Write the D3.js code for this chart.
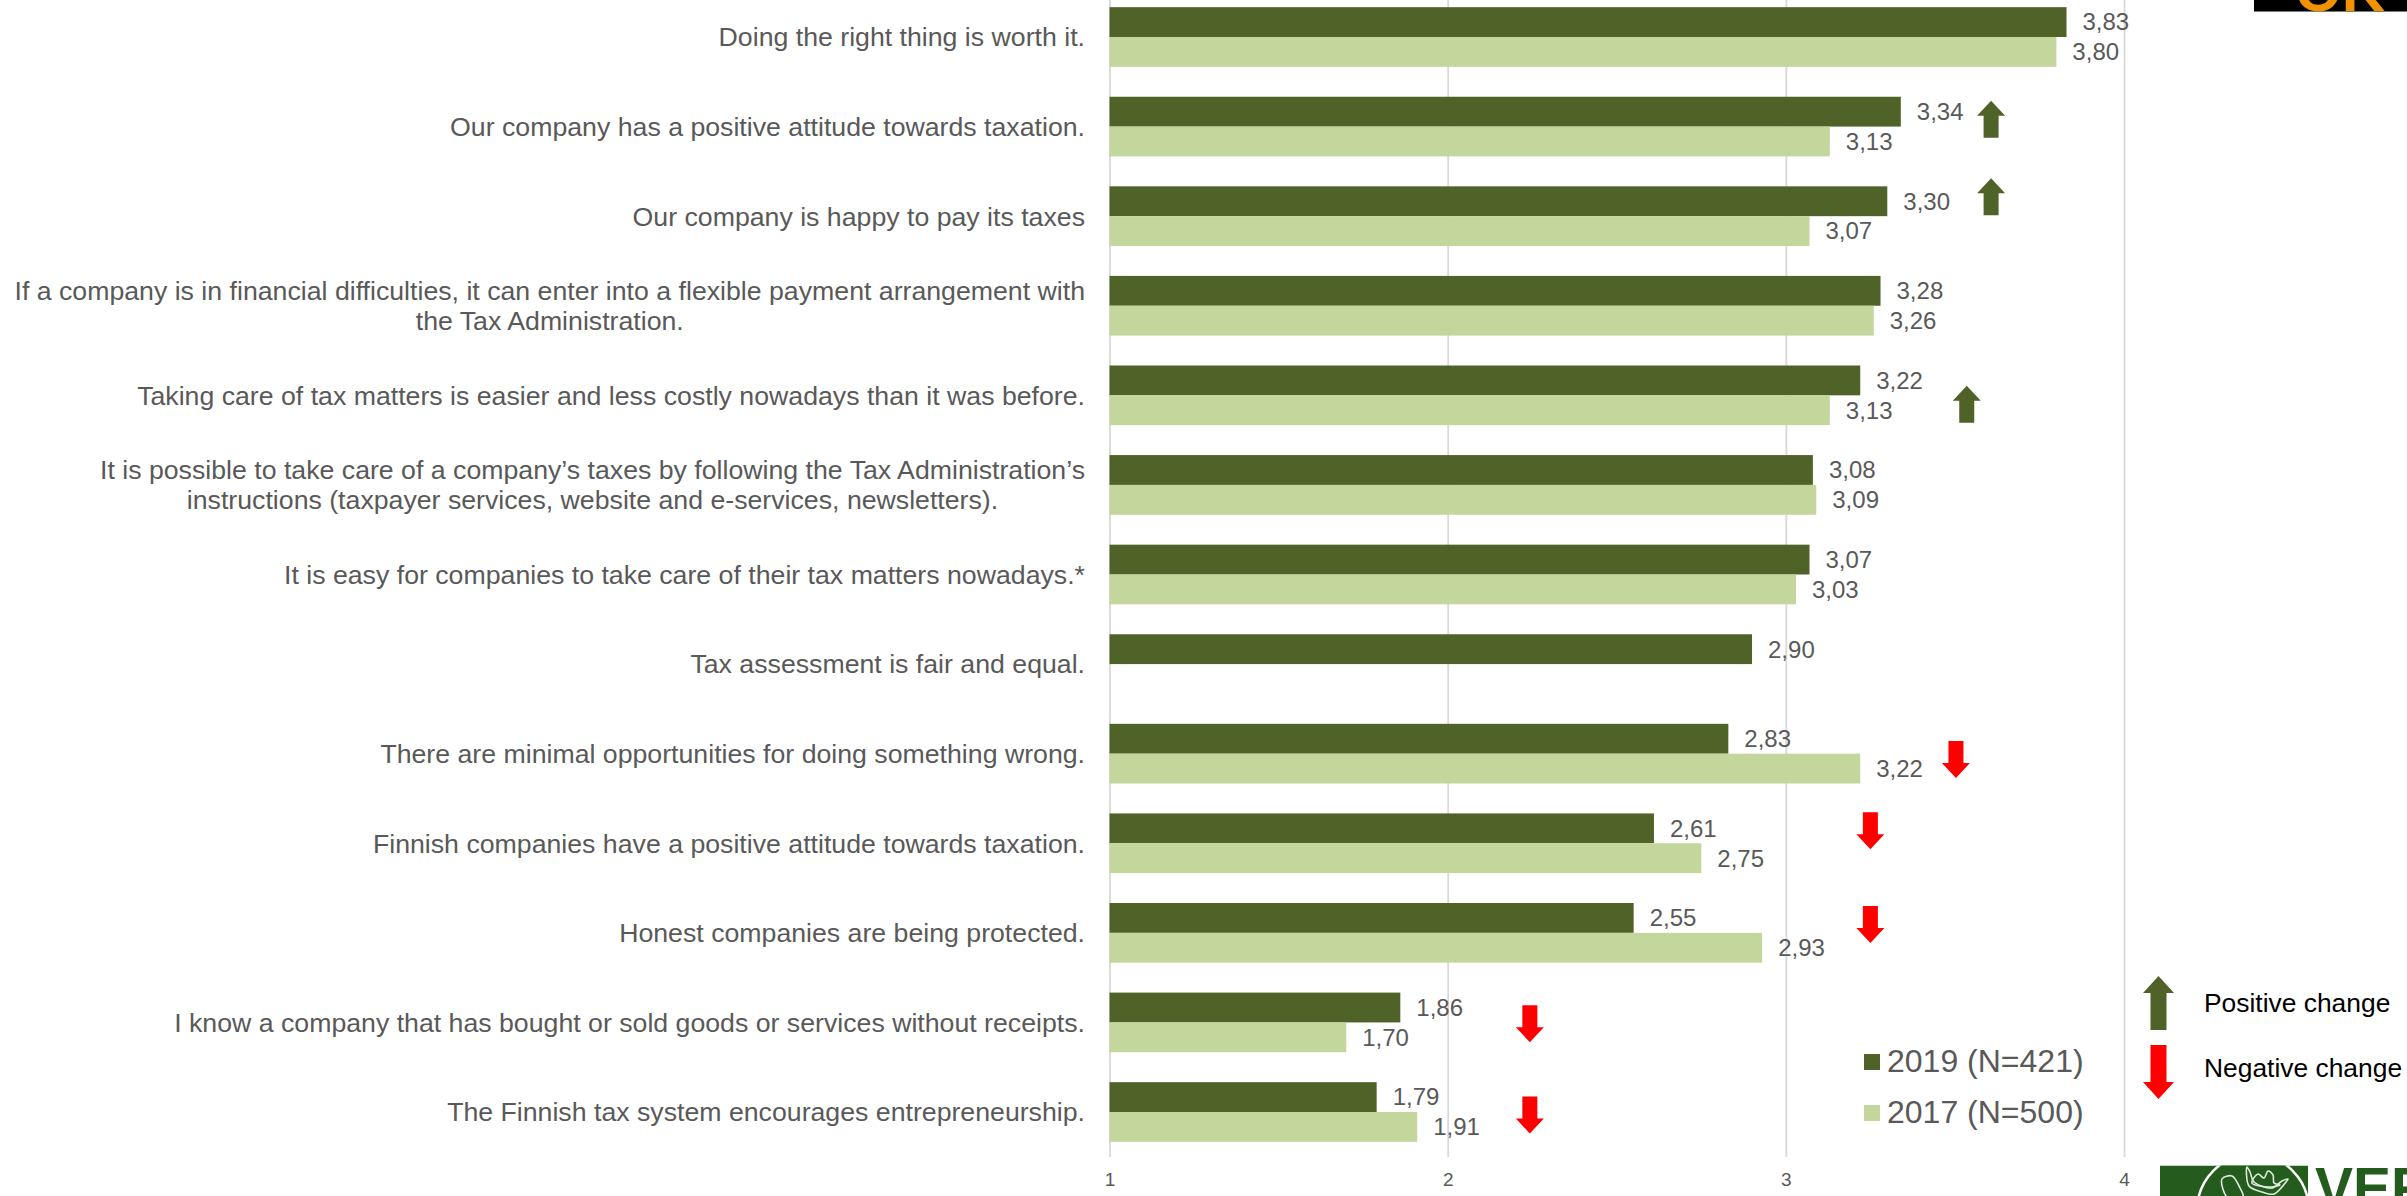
<!DOCTYPE html>
<html lang="en">
<head>
<meta charset="utf-8">
<title>Attitudes towards taxation, 2019 and 2017</title>
<script src="https://cdn.jsdelivr.net/npm/d3@7"></script>
<style>
  html, body { margin: 0; padding: 0; background: #fff; overflow: hidden; }
  svg { display: block; font-family: "Liberation Sans", Arial, sans-serif; }
</style>
</head>
<body>
<svg id="chart" width="2407" height="1196"></svg>
<script>
// Statements, with line breaks where the label wraps
const categories = [
  ["Doing the right thing is worth it."],
  ["Our company has a positive attitude towards taxation."],
  ["Our company is happy to pay its taxes"],
  ["If a company is in financial difficulties, it can enter into a flexible payment arrangement with", "the Tax Administration."],
  ["Taking care of tax matters is easier and less costly nowadays than it was before."],
  ["It is possible to take care of a company’s taxes by following the Tax Administration’s", "instructions (taxpayer services, website and e-services, newsletters)."],
  ["It is easy for companies to take care of their tax matters nowadays.*"],
  ["Tax assessment is fair and equal."],
  ["There are minimal opportunities for doing something wrong."],
  ["Finnish companies have a positive attitude towards taxation."],
  ["Honest companies are being protected."],
  ["I know a company that has bought or sold goods or services without receipts."],
  ["The Finnish tax system encourages entrepreneurship."]
];

// Mean scores per survey year; the 2017 survey did not ask about tax assessment
const values2019 = [3.83, 3.34, 3.30, 3.28, 3.22, 3.08, 3.07, 2.90, 2.83, 2.61, 2.55, 1.86, 1.79];
const values2017 = [3.80, 3.13, 3.07, 3.26, 3.13, 3.09, 3.03, null, 3.22, 2.75, 2.93, 1.70, 1.91];

const seriesNames = ["2019 (N=421)", "2017 (N=500)"];
const tickValues = [1, 2, 3, 4];

// Statements whose score changed significantly: +1 better, -1 worse
const changedStatements = [1, 2, 4, 8, 9, 10, 11, 12];
const changeDirections = [1, 1, 1, -1, -1, -1, -1, -1];

// Where each change arrow sits: along the score axis, and nudged from the row centre
const arrowAxisValues = [3.607, 3.607, 3.535, 3.503, 3.25, 3.25, 2.243, 2.243];
const arrowRowNudge = [-7.3, -19.5, 8.9, 5.9, -12.5, -8.3, 1.3, 3];

const DARK = "#4f6228", LIGHT = "#c3d69b", RED = "#ff0000";
const TEXT = "#595959", GRID = "#d9d9d9", LOGO = "#245c1e", ORANGE = "#f39200";

const svg = d3.select("#chart");

const x = d3.scaleLinear().domain([1, 4]).range([1109.5, 2124]);
const rowIndex = d3.range(categories.length);
const row = d3.scaleBand().domain(rowIndex).range([-7.8, 1156.8]).paddingInner(0.334).paddingOuter(0.167);
const pair = d3.scaleBand().domain([0, 1]).range([0, row.bandwidth()]);
const rowMid = i => row(i) + row.bandwidth() / 2;

const decimalComma = d3.formatLocale({ decimal: ",", thousands: ".", grouping: [3], currency: ["", ""] }).format(".2f");

// Vertical gridlines and score labels
const axis = svg.append("g")
  .attr("transform", "translate(0,1157)")
  .call(d3.axisBottom(x).tickValues(tickValues).tickFormat(d3.format("d")).tickSize(-1157).tickPadding(16));
axis.select(".domain").remove();
axis.selectAll(".tick line").attr("stroke", GRID).attr("stroke-width", 1.8);
axis.selectAll(".tick text").attr("fill", TEXT).attr("font-size", 19).attr("font-family", "Liberation Sans");

// Paired bars
const series = [
  { values: values2019, color: DARK, slot: 0 },
  { values: values2017, color: LIGHT, slot: 1 }
];
series.forEach(s => {
  const present = rowIndex.filter(i => s.values[i] !== null);
  svg.append("g").selectAll("rect").data(present).join("rect")
    .attr("x", x(1))
    .attr("y", i => row(i) + pair(s.slot))
    .attr("width", i => x(s.values[i]) - x(1))
    .attr("height", pair.bandwidth())
    .attr("fill", s.color);
  svg.append("g").selectAll("text").data(present).join("text")
    .attr("x", i => x(s.values[i]) + 16)
    .attr("y", i => row(i) + pair(s.slot) + pair.bandwidth() / 2)
    .attr("dy", "0.35em")
    .attr("fill", TEXT)
    .attr("font-size", 24)
    .text(i => decimalComma(s.values[i]));
});

// Statement labels: the block is centred on itself and right-aligned to the axis
const labels = svg.append("g");
rowIndex.forEach(i => {
  const lines = categories[i];
  const g = labels.append("text")
    .attr("fill", TEXT)
    .attr("font-size", 26.7)
    .attr("text-anchor", "middle");
  lines.forEach((line, k) => {
    g.append("tspan").attr("x", 0)
      .attr("y", rowMid(i) + (k - (lines.length - 1) / 2) * 30)
      .attr("dy", "0.35em")
      .text(line);
  });
  const w = g.node().getBBox().width;
  g.attr("transform", `translate(${1085 - w / 2},0)`);
});

// Arrow outline around its own centre, pointing up for dir = 1
function arrowPath(cx, cy, dir, len, headLen, headHalf, shaftHalf) {
  const t = dir * len / 2;
  const pts = [
    [cx, cy - t],
    [cx + headHalf, cy - t + dir * headLen],
    [cx + shaftHalf, cy - t + dir * headLen],
    [cx + shaftHalf, cy + t],
    [cx - shaftHalf, cy + t],
    [cx - shaftHalf, cy - t + dir * headLen],
    [cx - headHalf, cy - t + dir * headLen]
  ];
  return d3.line()(pts) + "Z";
}

svg.append("g").selectAll("path").data(changedStatements).join("path")
  .attr("d", (c, k) => arrowPath(x(arrowAxisValues[k]), rowMid(c) + arrowRowNudge[k], changeDirections[k], 37, 15, 14, 7.5))
  .attr("fill", (c, k) => changeDirections[k] > 0 ? DARK : RED);

// Series legend
const legend = svg.append("g");
seriesNames.forEach((name, k) => {
  legend.append("rect").attr("x", 1864).attr("y", 1054 + k * 51).attr("width", 16).attr("height", 16)
    .attr("fill", series[k].color);
  legend.append("text").attr("x", 1887).attr("y", 1072 + k * 51)
    .attr("font-size", 32).attr("fill", TEXT).text(name);
});

// Arrow key
const key = svg.append("g");
key.append("path").attr("d", arrowPath(2158.5, 1003, 1, 54, 17, 15.5, 8)).attr("fill", DARK);
key.append("path").attr("d", arrowPath(2158.5, 1072, -1, 54, 17, 15.5, 8)).attr("fill", RED);
key.append("text").attr("x", 2204).attr("y", 1012).attr("font-size", 26.4).attr("fill", "#000").text("Positive change");
key.append("text").attr("x", 2204).attr("y", 1077).attr("font-size", 26.4).attr("fill", "#000").text("Negative change");

// Tax Administration wordmark, running off the bottom right corner
const defs = svg.append("defs");
defs.append("clipPath").attr("id", "logoBand").append("rect")
  .attr("x", 2160).attr("y", 1165.5).attr("width", 150).attr("height", 40);
defs.append("clipPath").attr("id", "badgeBand").append("rect")
  .attr("x", 2254).attr("y", 0).attr("width", 153).attr("height", 11.7);

const logo = svg.append("g").attr("clip-path", "url(#logoBand)");
logo.append("rect").attr("x", 2160).attr("y", 1165.5).attr("width", 148).attr("height", 40).attr("fill", LOGO);
logo.append("circle").attr("cx", 2253).attr("cy", 1210).attr("r", 55.8)
  .attr("fill", LOGO).attr("stroke", "#fff").attr("stroke-width", 2.5);
const emblem = d3.line().curve(d3.curveCatmullRomClosed.alpha(0.5));
const emblemStrokes = [
  // crown band
  [[2247, 1167], [2249, 1186], [2262, 1192], [2274, 1194], [2286, 1182], [2288, 1179], [2282, 1181], [2272, 1188], [2254, 1182], [2250, 1172]],
  // crown points
  [[2252, 1183], [2258, 1174], [2264, 1178], [2268, 1171], [2273, 1175], [2274, 1183], [2280, 1185], [2270, 1187]],
  // leaf
  [[2222, 1179], [2232, 1176], [2240, 1188], [2243, 1196], [2228, 1198]]
];
emblemStrokes.forEach(pts => {
  logo.append("path").attr("d", emblem(pts))
    .attr("fill", "none").attr("stroke", "#dfe9dc").attr("stroke-width", 1.6);
});
svg.append("text").attr("x", 2315).attr("y", 1208).attr("font-size", 57).attr("font-weight", 700)
  .attr("fill", LOGO).text("VER");

// Badge at the top right edge
const badge = svg.append("g").attr("clip-path", "url(#badgeBand)");
badge.append("rect").attr("x", 2254).attr("y", 0).attr("width", 153).attr("height", 11.7).attr("fill", "#000");
badge.append("text").attr("x", 2295).attr("y", 11).attr("font-size", 60).attr("font-weight", 700)
  .attr("fill", ORANGE).text("OK");
</script>
</body>
</html>
